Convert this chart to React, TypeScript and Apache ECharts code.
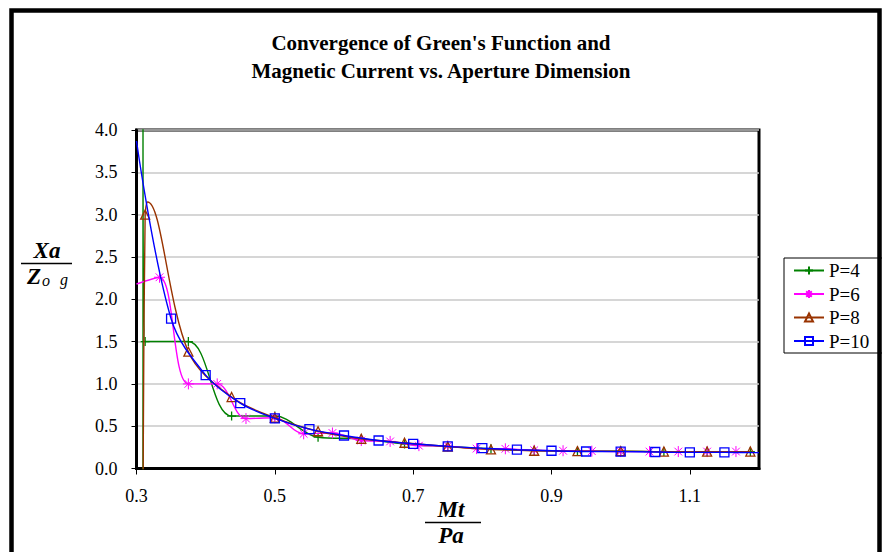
import React, { useEffect, useRef } from "react";
import * as echarts from "echarts";

const TITLE_LINES = ["Convergence of Green's Function and", "Magnetic Current vs. Aperture Dimension"];
const SERIES_NAMES = ["P=4", "P=6", "P=8", "P=10"];
const X_TICKS = [0.3, 0.5, 0.7, 0.9, 1.1];
const Y_LABEL_TOP = "Xa";
const Y_LABEL_BOTTOM = "Z";
const Y_LABEL_SUB1 = "o";
const Y_LABEL_SUB2 = "g";
const X_LABEL_TOP = "Mt";
const X_LABEL_BOTTOM = "Pa";

// P=4 (points with an index in *_HIDDEN carry no marker: where the drawn curve enters/leaves the plot)
const P4_X = [0.3094, 0.3094, 0.3125, 0.375, 0.4375, 0.5, 0.5625, 0.625, 0.6875, 0.75, 0.8125, 0.875, 0.9375, 1.0, 1.0625, 1.125, 1.1875];
const P4_Y = [-0.3, 4.3, 1.5, 1.5, 0.62, 0.62, 0.37, 0.35, 0.29, 0.26, 0.233, 0.213, 0.205, 0.205, 0.2, 0.2, 0.2];
const P4_HIDDEN = [0, 1];

// P=6
const P6_X = [0.3, 0.3333, 0.375, 0.4167, 0.4583, 0.5, 0.5417, 0.5833, 0.625, 0.6667, 0.7083, 0.75, 0.7917, 0.8333, 0.875, 0.9167, 0.9583, 1.0, 1.0417, 1.0833, 1.125, 1.1667];
const P6_Y = [2.18, 2.26, 1.0, 1.0, 0.59, 0.6, 0.41, 0.42, 0.33, 0.32, 0.27, 0.265, 0.235, 0.233, 0.215, 0.21, 0.205, 0.2, 0.2, 0.2, 0.2, 0.2];
const P6_HIDDEN = [0];

// P=8
const P8_X = [0.3094, 0.3125, 0.316, 0.375, 0.4375, 0.5, 0.5625, 0.625, 0.6875, 0.75, 0.8125, 0.875, 0.9375, 1.0, 1.0625, 1.125, 1.1875];
const P8_Y = [-0.3, 3.0, 3.15, 1.38, 0.844, 0.6, 0.44, 0.351, 0.304, 0.26, 0.225, 0.21, 0.205, 0.205, 0.2, 0.2, 0.2];
const P8_HIDDEN = [0, 2];

// P=10
const P10_X = [0.3, 0.35, 0.4, 0.45, 0.5, 0.55, 0.6, 0.65, 0.7, 0.75, 0.8, 0.85, 0.9, 0.95, 1.0, 1.05, 1.1, 1.15, 1.2];
const P10_Y = [3.87, 1.77, 1.104, 0.773, 0.592, 0.465, 0.39, 0.331, 0.292, 0.262, 0.24, 0.222, 0.21, 0.201, 0.2, 0.195, 0.19, 0.19, 0.188];
const P10_HIDDEN = [0, 18];

const COLORS = ["#008000", "#FF00FF", "#993300", "#0000FF"];
const PLUS = "path://M5,0L5,10M0,5L10,5";
const STAR = "path://M5,0L5,10M0,5L10,5M1.5,1.5L8.5,8.5M8.5,1.5L1.5,8.5";
const SYMBOLS = [PLUS, STAR, "triangle", "rect"];
const SYMBOL_SIZES = [9, 11, 9, 9];
const BORDER_WIDTHS = [1.3, 1, 1.3, 1.3];
const SERIF = "'Liberation Serif', 'Times New Roman', serif";

function build(xs: number[], ys: number[], hidden: number[]) {
  return xs.map((x, i) =>
    hidden.indexOf(i) >= 0 ? { value: [x, ys[i]], symbol: "none" } : { value: [x, ys[i]] }
  );
}

export default function App() {
  const ref = useRef<HTMLDivElement>(null);
  useEffect(() => {
    if (!ref.current) return;
    const chart = echarts.init(ref.current, undefined, { renderer: "svg" });
    const datasets = [
      build(P4_X, P4_Y, P4_HIDDEN),
      build(P6_X, P6_Y, P6_HIDDEN),
      build(P8_X, P8_Y, P8_HIDDEN),
      build(P10_X, P10_Y, P10_HIDDEN),
    ];
    const option: any = {
      animation: false,
      backgroundColor: "#ffffff",
      color: COLORS,
      title: {
        text: TITLE_LINES.join("\n"),
        left: "center",
        top: 24,
        textStyle: {
          fontFamily: SERIF,
          fontWeight: "bold",
          fontSize: 21,
          lineHeight: 28,
          color: "#000",
        },
      },
      grid: {
        left: 136.5,
        top: 130,
        right: 123,
        bottom: 83.5,
        show: true,
        borderColor: "#000",
        borderWidth: 3,
      },
      legend: {
        orient: "vertical",
        left: 793,
        top: 261,
        padding: 0,
        itemWidth: 30,
        itemHeight: 10,
        itemGap: 4.5,
        data: SERIES_NAMES,
        textStyle: { fontFamily: SERIF, fontSize: 19, lineHeight: 19, color: "#000" },
      },
      xAxis: {
        type: "value",
        min: 0.3,
        max: 1.2,
        axisLine: { show: true, lineStyle: { color: "#000", width: 3 } },
        axisTick: { show: true, customValues: X_TICKS, length: 6, lineStyle: { color: "#000", width: 1 } },
        axisLabel: {
          customValues: X_TICKS,
          formatter: (v: number) => v.toFixed(1),
          fontFamily: SERIF,
          fontSize: 18,
          color: "#000",
          margin: 18,
        },
        splitLine: { show: false },
      },
      yAxis: {
        type: "value",
        min: 0,
        max: 4,
        interval: 0.5,
        axisLine: { show: true, lineStyle: { color: "#000", width: 3 } },
        axisTick: { show: true, length: 5, lineStyle: { color: "#000", width: 1 } },
        axisLabel: {
          formatter: (v: number) => v.toFixed(1),
          fontFamily: SERIF,
          fontSize: 18,
          color: "#000",
          margin: 19,
        },
        splitLine: { show: true, lineStyle: { color: "#c8c8c8", width: 1.5 } },
      },
      series: SERIES_NAMES.map((name, i) => ({
        name,
        type: "line",
        data: datasets[i],
        smooth: 0.35,
        symbol: SYMBOLS[i],
        symbolSize: SYMBOL_SIZES[i],
        showAllSymbol: true,
        clip: true,
        lineStyle: { color: COLORS[i], width: 1.4 },
        itemStyle: { color: "rgba(0,0,0,0)", borderColor: COLORS[i], borderWidth: BORDER_WIDTHS[i] },
        emphasis: { disabled: true },
        z: 2 + i,
      })),
      graphic: [
        {
          type: "rect",
          shape: { x: 11.5, y: 10.5, width: 868, height: 620 },
          style: { fill: "none", stroke: "#000", lineWidth: 4.5 },
          silent: true,
        },
        {
          type: "rect",
          shape: { x: 784, y: 258, width: 120, height: 95 },
          style: { fill: "none", stroke: "#000", lineWidth: 1 },
          silent: true,
        },
        {
          type: "text",
          x: 47,
          y: 262,
          style: { text: Y_LABEL_TOP, font: `italic bold 23px ${SERIF}`, fill: "#000", align: "center", verticalAlign: "bottom" },
        },
        {
          type: "line",
          shape: { x1: 21, y1: 263.5, x2: 72, y2: 263.5 },
          style: { stroke: "#000", lineWidth: 1.5 },
        },
        {
          type: "text",
          x: 34,
          y: 265,
          style: { text: Y_LABEL_BOTTOM, font: `italic bold 23px ${SERIF}`, fill: "#000", align: "center", verticalAlign: "top" },
        },
        {
          type: "text",
          x: 46,
          y: 272,
          style: { text: Y_LABEL_SUB1, font: `italic 16px ${SERIF}`, fill: "#000", align: "center", verticalAlign: "top" },
        },
        {
          type: "text",
          x: 64,
          y: 271,
          style: { text: Y_LABEL_SUB2, font: `italic 16px ${SERIF}`, fill: "#000", align: "center", verticalAlign: "top" },
        },
        {
          type: "text",
          x: 451,
          y: 521,
          style: { text: X_LABEL_TOP, font: `italic bold 23px ${SERIF}`, fill: "#000", align: "center", verticalAlign: "bottom" },
        },
        {
          type: "line",
          shape: { x1: 425, y1: 522.5, x2: 481, y2: 522.5 },
          style: { stroke: "#000", lineWidth: 1.5 },
        },
        {
          type: "text",
          x: 451,
          y: 524,
          style: { text: X_LABEL_BOTTOM, font: `italic bold 23px ${SERIF}`, fill: "#000", align: "center", verticalAlign: "top" },
        },
      ],
    };
    chart.setOption(option);
    return () => chart.dispose();
  }, []);
  return (
    <div
      ref={ref}
      style={{ position: "absolute", left: 0, top: 0, width: 882, height: 552, background: "#fff" }}
    />
  );
}
